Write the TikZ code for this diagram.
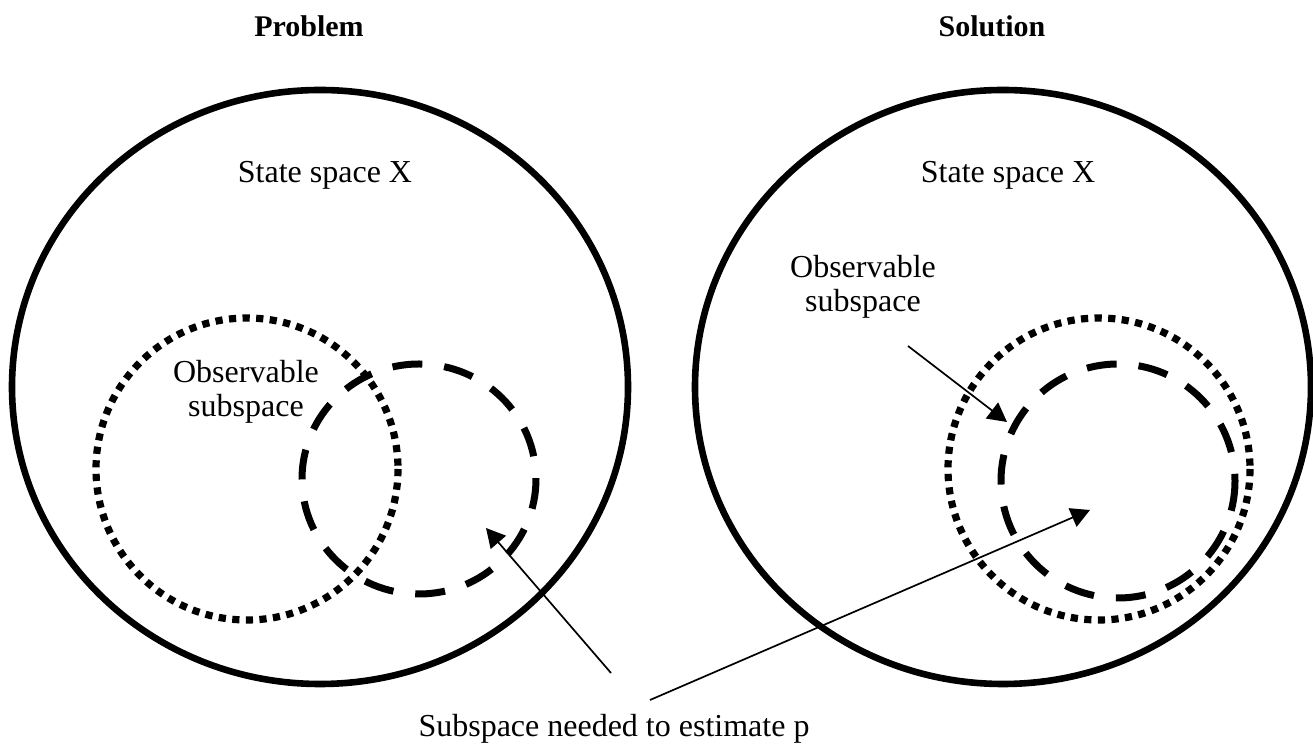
\documentclass[tikz,border=0pt]{standalone}
\usepackage{fontspec}
\setmainfont{Liberation Serif}
\usetikzlibrary{arrows.meta}

\begin{document}
\begin{tikzpicture}[x=0.5pt,y=-0.5pt,
  every node/.style={font=\fontsize{16}{17}\selectfont,align=center,inner sep=0pt},
  head/.style={font=\fontsize{15}{17}\selectfont\bfseries},
  outer/.style={line width=3.3pt},
  obs/.style={line width=3.6pt,dash pattern=on 3.6pt off 3.2pt},
  need/.style={line width=3.5pt,dash pattern=on 15pt off 11pt},
  pointer/.style={line width=0.85pt,-{Triangle[length=9.5pt,width=10pt]}}]
  \useasboundingbox (0,0) rectangle (1313,747);
  \def\Rx{308}
  \def\Ry{297}
  \def\ro{151}
  \def\rn{117}
  \def\universe(#1,#2)#3{%
    \draw[outer] (#1,#2) circle [x radius=\Rx, y radius=\Ry];
    \node[head,anchor=base] (#3) at (#1-11,37) {#3};
    \node[anchor=base] (#3-X) at (#1+5,183) {State space X};
  }
  \universe(320,387){Problem}
  \universe(1003,387){Solution}

  % problem: the two subspaces only overlap
  \draw[obs] (247,469) circle [radius=\ro];
  \draw[need] (419,479) circle [x radius=\rn, y radius=115];
  % solution: needed subspace inside the observable one
  \draw[obs] (1099,469) circle [radius=\ro];
  \draw[need] (1118,481) circle [radius=\rn];

  \node (obsL) at (246,392) {Observable\\subspace};
  \node (obsR) at (863,287) {Observable\\subspace};
  \node[anchor=base] (needed) at (614,737) {Subspace needed to estimate p};

  \coordinate (obsR-tail) at (908,346);
  \coordinate (obsR-tip) at (1007,422);
  \coordinate (needL-tail) at (611,673);
  \coordinate (needL-tip) at (486,528);
  \coordinate (needR-tail) at (650,700);
  \coordinate (needR-tip) at (1090,510);
  \draw[pointer] (obsR-tail) -- (obsR-tip);
  \draw[pointer] (needL-tail) -- (needL-tip);
  \draw[pointer] (needR-tail) -- (needR-tip);
\end{tikzpicture}
\end{document}
